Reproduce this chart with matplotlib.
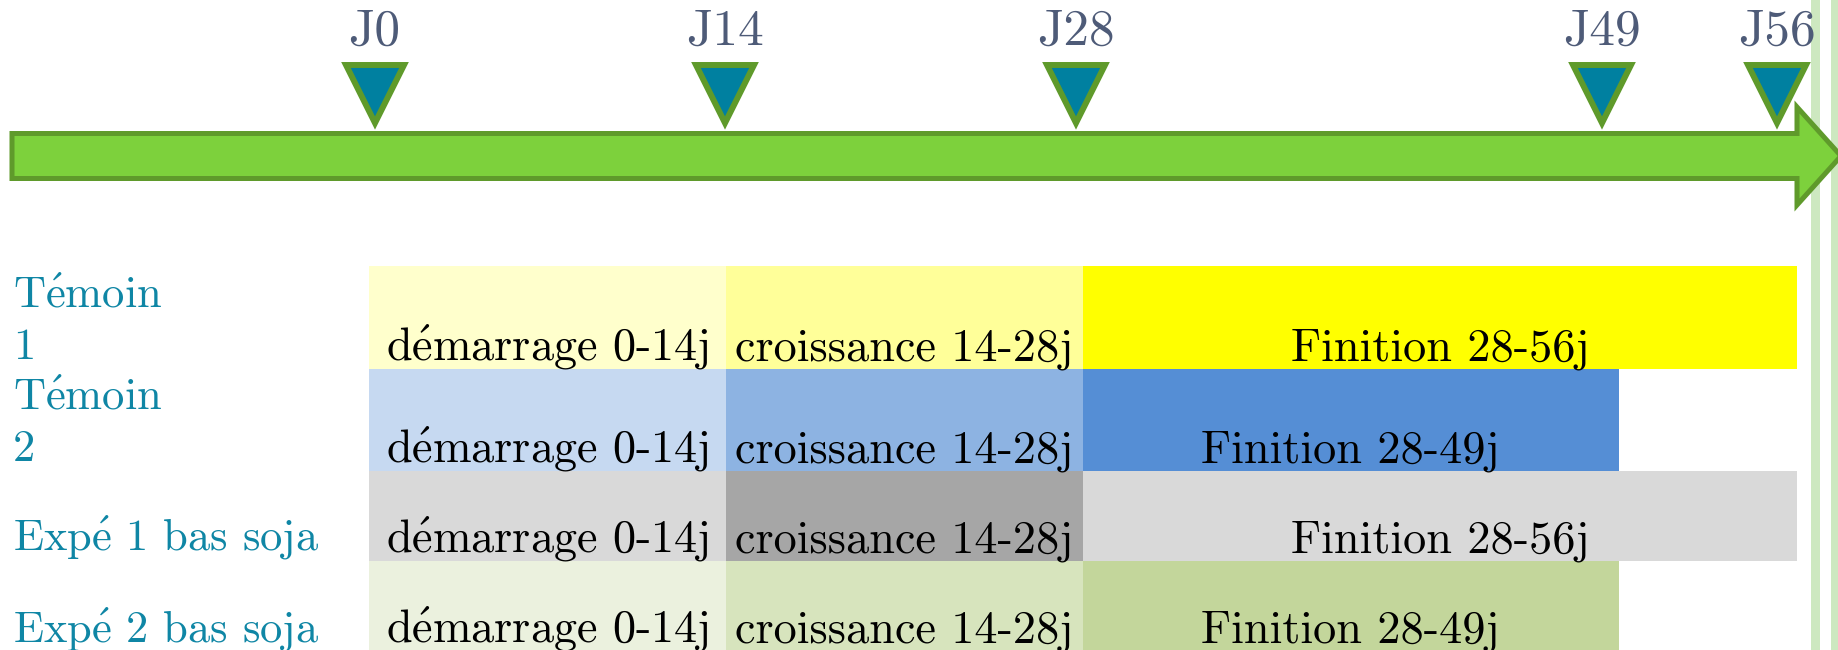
import matplotlib
matplotlib.use("Agg")
import matplotlib.pyplot as plt
from matplotlib.patches import Polygon, Rectangle
from matplotlib import transforms

# jalons de la frise (jours)
jalons = [0, 14, 28, 49, 56]
jalon_labels = ["J0", "J14", "J28", "J49", "J56"]

# lots et phases d'alimentation
lots = ["Témoin\n1", "Témoin\n2", "Expé 1 bas soja", "Expé 2 bas soja"]
phases = ["démarrage", "croissance", "Finition"]
debut_phase = [0, 14, 28]
fin_finition = [56, 49, 56, 49]

couleurs = [
    ["#ffffcc", "#ffff99", "#ffff00"],
    ["#c6d9f1", "#8db3e2", "#558ed5"],
    ["#d9d9d9", "#a6a6a6", "#d9d9d9"],
    ["#ebf1de", "#d7e4bd", "#c3d69b"],
]

W, H = 1838, 650
plt.rcParams["font.family"] = "cmr10"
plt.rcParams["mathtext.fontset"] = "cm"


def tex(s):
    # cmr10 n'a pas de é : on passe par l'accent mathtext
    return s.replace("é", r"$\acute{\mathrm{e}}$")


fig = plt.figure(figsize=(W / 100, H / 100), dpi=100)

# fond en pixels : flèche et bandes de droite
bg = fig.add_axes([0, 0, 1, 1])
bg.set_xlim(0, W)
bg.set_ylim(H, 0)
bg.axis("off")
for x0, x1 in [(1811, 1820), (1831, 1839)]:
    bg.add_patch(Rectangle((x0, 0), x1 - x0, H, facecolor="#cde8c0", edgecolor="none"))
fleche = [(12, 133.5), (1797, 133.5), (1797, 107), (1841, 156),
          (1797, 205), (1797, 178.5), (12, 178.5)]
bg.add_patch(Polygon(fleche, closed=True, facecolor="#7dd13c", edgecolor="#5f9a2b",
                     linewidth=3.6, joinstyle="miter"))

# frise des jalons
top = fig.add_axes([0, 0, 1, 1])
top.patch.set_alpha(0)
jour_px = 25.05
x0_px = 374.5
top.set_xlim(-x0_px / jour_px, (W - x0_px) / jour_px)
top.set_ylim(H, 0)
top.axis("off")
top.plot(jalons, [94] * len(jalons), linestyle="none", marker="v", markersize=41.5,
         markerfacecolor="#0080a0", markeredgecolor="#5f9a2b", markeredgewidth=4.3)
for j, lab in zip(jalons, jalon_labels):
    top.text(j, 45, lab, ha="center", va="baseline", fontsize=37, color="#4e5b78")

# planning des lots
ax = fig.add_axes([0, 0, 1, 1])
ax.patch.set_alpha(0)
bar_px = (1797 - 369) / 56
ax.set_xlim(-369 / bar_px, (W - 369) / bar_px)
ax.set_ylim(H, 0)
ax.axis("off")

row_top = [266, 369, 471, 561]
row_bot = [369, 471, 561, 652]
lbl = transforms.blended_transform_factory(fig.transFigure, ax.transData)

for i, lot in enumerate(lots):
    fins = debut_phase[1:] + [fin_finition[i]]
    y0, y1 = row_top[i], row_bot[i]
    for k, nom in enumerate(phases):
        d, f = debut_phase[k], fins[k]
        ax.barh(y0, f - d, left=d, height=y1 - y0, align="edge",
                color=couleurs[i][k], linewidth=0)
        ax.text((d + f) / 2, y1 - 9, tex(f"{nom} {d}-{f}j"), ha="center",
                va="baseline", fontsize=33.3, color="black")
    ax.text(13 / W, y1 - 10, tex(lot), transform=lbl, ha="left", va="baseline",
            fontsize=32, color="#0f86a5", linespacing=1.37)

fig.savefig("out.png", dpi=100)
